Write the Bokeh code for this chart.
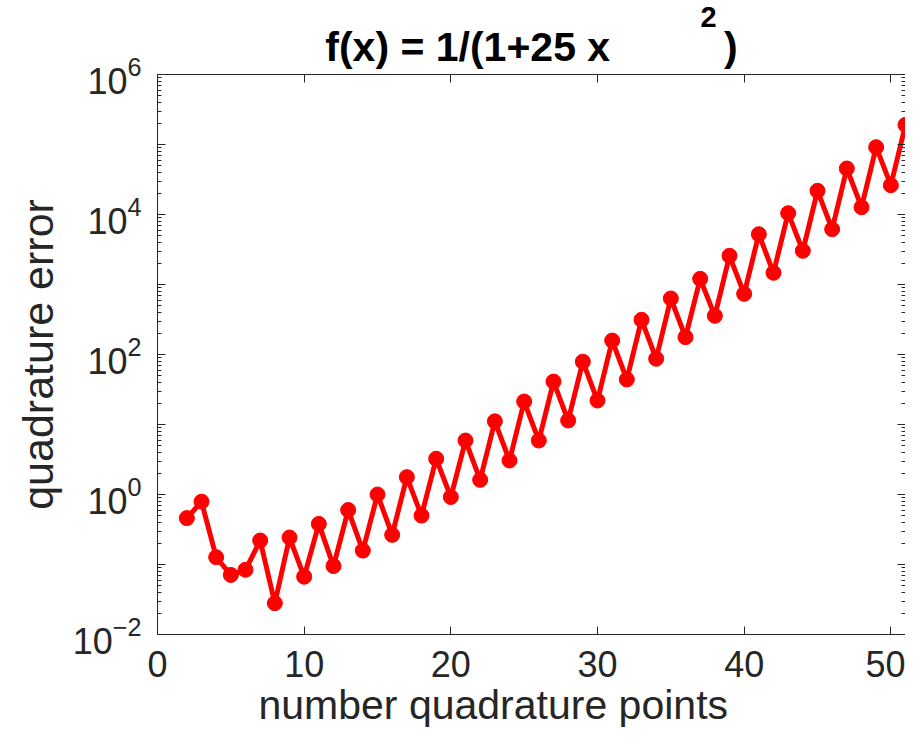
import math
from bokeh.plotting import figure
from bokeh.models import (Range1d, LogAxis, LinearAxis, FixedTicker,
                          CustomJSTickFormatter, Title, ColumnDataSource)
from bokeh.embed import file_html
from bokeh.resources import INLINE

# ---- data ----
n_points = [2, 3, 4, 5, 6, 7, 8, 9, 10, 11, 12, 13, 14, 15, 16, 17, 18, 19, 20,
            21, 22, 23, 24, 25, 26, 27, 28, 29, 30, 31, 32, 33, 34, 35, 36, 37,
            38, 39, 40, 41, 42, 43, 44, 45, 46, 47, 48, 49, 50, 51]
quad_error = [0.46, 0.79, 0.127, 0.071, 0.084, 0.22, 0.028, 0.243, 0.067, 0.38,
              0.095, 0.60, 0.158, 1.0, 0.265, 1.77, 0.5, 3.24, 0.92, 5.9,
              1.62, 11.1, 3.06, 21.3, 5.9, 41.0, 11.4, 79.0, 22.0, 158.0,
              44.0, 313.0, 87.0, 631.0, 177.0, 1205.0, 357.0, 2570.0, 736.0, 5230.0,
              1469.0, 10440.0, 3030.0, 21800.0, 6170.0, 45400.0, 12700.0, 91500.0, 26200.0, 191000.0]

x_ticks = [0, 10, 20, 30, 40, 50]
y_decades = [1e-2, 1e-1, 1e0, 1e1, 1e2, 1e3, 1e4, 1e5, 1e6]
y_unlabeled = {0.1: "", 10.0: "", 1000.0: "", 100000.0: ""}
y_minor = [m * d for d in y_decades[:-1] for m in range(2, 10)]

# MATLAB drew the exponent of the title as a separate raised piece
title_base = "f(x) = 1/(1+25 x \u2002\u2002\u2002\u2002\u2002)"
title_exp = "2"
x_label = "number quadrature points"
y_label = "quadrature error"

X_MIN, X_MAX = 0, 51
Y_MIN, Y_MAX = 1e-2, 1e6

FONT = "Liberation Sans"
DARK = "#262626"
RED = "#ff0000"

W, H = 905, 736
FL, FR, FT, FB = 157, 905, 74, 634   # frame edges in canvas pixels

p = figure(width=W, height=H,
           x_range=Range1d(X_MIN, X_MAX), y_range=Range1d(Y_MIN, Y_MAX),
           y_axis_type="log", output_backend="svg", toolbar_location=None,
           title_location=None,
           min_border_left=FL, min_border_right=W - FR, min_border_top=FT,
           min_border_bottom=H - FB)
p.grid.visible = False
p.outline_line_color = None
p.background_fill_color = "white"
p.border_fill_color = "white"

src = ColumnDataSource(dict(x=n_points, y=quad_error))
p.line("x", "y", source=src, line_color=RED, line_width=5)
p.scatter("x", "y", source=src, size=15, color=RED)

# bottom axis
xa = p.xaxis[0]
xa.ticker = FixedTicker(ticks=x_ticks, minor_ticks=[])
xa.major_tick_in = 8
xa.major_tick_out = 0
xa.minor_tick_in = 0
xa.minor_tick_out = 0
xa.axis_line_color = DARK
xa.major_tick_line_color = DARK
xa.major_label_text_font = FONT
xa.major_label_text_font_size = "36px"
xa.major_label_text_color = DARK
xa.major_label_standoff = 16

# left axis
ya = p.yaxis[0]
ya.ticker = FixedTicker(ticks=y_decades, minor_ticks=y_minor)
ya.major_label_overrides = y_unlabeled
ya.major_tick_in = 8
ya.major_tick_out = 0
ya.minor_tick_in = 4
ya.minor_tick_out = 0
ya.axis_line_color = DARK
ya.major_tick_line_color = DARK
ya.minor_tick_line_color = DARK
ya.major_label_text_font = FONT
ya.major_label_text_font_size = "36px"
ya.major_label_text_color = DARK
ya.major_label_standoff = 16
ya.axis_label = y_label
ya.axis_label_text_font = FONT
ya.axis_label_text_font_size = "43px"
ya.axis_label_text_font_style = "normal"
ya.axis_label_text_color = DARK
ya.axis_label_standoff = 8

blank = CustomJSTickFormatter(code="return ''")

top = LinearAxis(ticker=FixedTicker(ticks=x_ticks, minor_ticks=[]), formatter=blank,
                 major_tick_in=8, major_tick_out=0, minor_tick_in=0, minor_tick_out=0,
                 axis_line_color=DARK, major_tick_line_color=DARK,
                 major_label_standoff=0)
p.add_layout(top, "above")

right = LogAxis(ticker=FixedTicker(ticks=y_decades, minor_ticks=y_minor), formatter=blank,
                major_tick_in=8, major_tick_out=0, minor_tick_in=4, minor_tick_out=0,
                axis_line_color=DARK, major_tick_line_color=DARK,
                minor_tick_line_color=DARK, major_label_standoff=0)
p.add_layout(right, "right")

# title: base text centred over the axes, exponent raised above the gap
p.add_layout(Title(text=title_base, align="center", text_font=FONT,
                   text_font_size="41px", text_font_style="bold",
                   text_color="black", standoff=9), "above")
p.add_layout(Title(text=title_exp, align="left", offset=543, text_font=FONT,
                   text_font_size="29px", text_font_style="bold",
                   text_color="black", standoff=-18), "above")

# x axis title, placed as a below-title so it can sit left of the frame centre
p.add_layout(Title(text=x_label, align="left", offset=101, text_font=FONT,
                   text_font_size="41px", text_font_style="normal",
                   text_color=DARK, standoff=0), "below")

open("out.html", "w").write(file_html(p, INLINE))
